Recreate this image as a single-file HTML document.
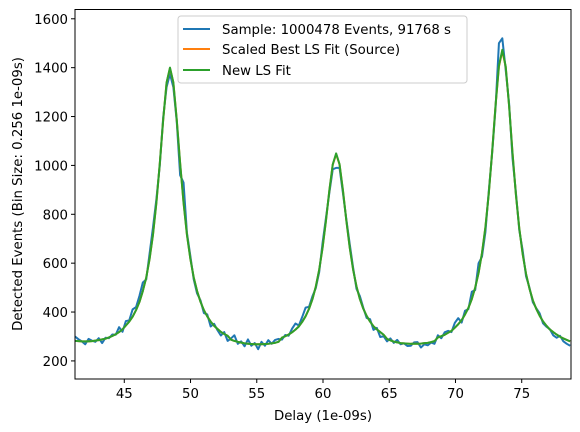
<!DOCTYPE html>
<html><head><meta charset="utf-8"><style>
html,body{margin:0;padding:0;background:#fff;}
svg{display:block;font-family:"DejaVu Sans","Liberation Sans",sans-serif;}
</style></head><body>
<svg id="chart" width="580" height="432" viewBox="0 0 580 432" xmlns="http://www.w3.org/2000/svg">
<rect x="0" y="0" width="580" height="432" fill="#fff"/>
<g id="series"></g>
<rect x="75" y="9.5" width="496" height="369.5" fill="none" stroke="#000" stroke-width="1"/>
<g id="xticks"></g>
<g id="yticks"></g>
<text x="323" y="420" text-anchor="middle" font-size="13.3" fill="#000">Delay (1e-09s)</text>
<text transform="translate(22,194) rotate(-90)" text-anchor="middle" font-size="13.3" fill="#000">Detected Events (Bin Size: 0.256 1e-09s)</text>
<g>
<rect x="178" y="16" width="289" height="67" rx="3" fill="#fff" fill-opacity="0.8" stroke="#ccc"/>
<line x1="183" y1="29" x2="210" y2="29" stroke="#1f77b4" stroke-width="2"/>
<text x="222" y="34" font-size="13.3">Sample: 1000478 Events, 91768 s</text>
<line x1="183" y1="49" x2="210" y2="49" stroke="#ff7f0e" stroke-width="2"/>
<text x="222" y="54" font-size="13.3">Scaled Best LS Fit (Source)</text>
<line x1="183" y1="70" x2="210" y2="70" stroke="#2ca02c" stroke-width="2"/>
<text x="222" y="75" font-size="13.3">New LS Fit</text>
</g>
</svg>
<script>
const binStart = 41.28;
const binSize = 0.256;
const xTicks = [45, 50, 55, 60, 65, 70, 75];
const yTicks = [200, 400, 600, 800, 1000, 1200, 1400, 1600];
const sampleValues = [300,289,280,268,290,283,278,293,273,295,293,308,307,338,319,363,366,411,420,466,521,533,640,747,862,1000,1196,1320,1375,1320,1180,960,930,725,631,534,476,448,396,390,341,352,326,304,318,282,292,305,270,280,260,288,262,273,248,278,262,285,270,286,290,287,306,303,332,353,345,380,418,421,464,498,563,683,786,888,984,990,990,887,780,679,582,495,465,418,376,371,327,335,298,301,280,292,274,286,268,272,261,262,276,277,255,268,264,275,270,305,293,317,323,318,356,375,357,405,412,483,490,600,626,726,894,1050,1235,1500,1520,1390,1253,1030,890,735,652,546,500,440,416,395,354,340,330,305,295,303,280,270,262];
const newFitValues = [282,281,280,280,280,281,283,285,288,291,296,302,309,318,329,345,361,381,408,441,486,541,618,717,847,1008,1186,1339,1400,1340,1187,1009,848,717,619,542,486,442,408,382,361,344,331,319,310,303,287,282,278,275,272,270,269,268,268,268,269,270,272,274,278,295,301,308,317,328,341,360,383,413,452,504,573,663,774,898,1004,1049,1005,899,775,664,574,505,453,414,384,361,342,329,318,307,290,284,279,276,273,272,271,270,270,270,271,273,274,277,281,296,301,307,315,323,336,350,367,390,417,453,500,560,641,746,884,1055,1245,1407,1473,1405,1243,1052,881,743,637,556,496,448,413,385,362,344,329,318,308,299,292,286,280];
const scaledFitValues = [282,281,280,280,280,281,283,285,288,291,296,302,309,318,329,345,361,381,408,441,486,541,618,717,847,1008,1186,1338,1398,1339,1187,1009,848,717,619,542,486,442,408,382,361,344,331,319,310,303,287,282,278,275,272,270,269,268,268,268,269,270,272,274,278,295,301,308,317,328,341,360,383,413,452,504,573,663,774,898,1003,1046,1004,899,775,664,574,505,453,414,384,361,342,329,318,307,290,284,279,276,273,272,271,270,270,270,271,273,274,277,281,296,301,307,315,323,336,350,367,390,417,453,500,560,641,746,884,1055,1244,1404,1468,1403,1243,1052,881,743,637,556,496,448,413,385,362,344,329,318,308,299,292,286,280];
const xMin = 41.28, xMax = 78.72, yMin = 126, yMax = 1638;
const PL = 75, PR = 571, PT = 9.5, PB = 379;
function xs(v){ return PL + (v - xMin) / (xMax - xMin) * (PR - PL); }
function ys(v){ return PB - (v - yMin) / (yMax - yMin) * (PB - PT); }
const NS = "http://www.w3.org/2000/svg";
const series = document.getElementById('series');
function addLine(vals, color, name){
  let d = '';
  vals.forEach((v,i)=>{ const x = xs(binStart + i*binSize); d += (i? 'L':'M') + x.toFixed(2) + ' ' + ys(v).toFixed(2); });
  const p = document.createElementNS(NS,'path');
  p.setAttribute('d', d);
  p.setAttribute('fill','none');
  p.setAttribute('stroke', color);
  p.setAttribute('stroke-width','2');
  p.setAttribute('stroke-linejoin','round');
  
  
  series.appendChild(p);
}
const clip = document.createElementNS(NS,'clipPath');
clip.setAttribute('id','pc');
const cr = document.createElementNS(NS,'rect');
cr.setAttribute('x',PL);cr.setAttribute('y',PT);cr.setAttribute('width',PR-PL);cr.setAttribute('height',PB-PT);
clip.appendChild(cr);
document.getElementById('chart').appendChild(clip);
series.setAttribute('clip-path','url(#pc)');
addLine(sampleValues, '#1f77b4', 'sample-line');
addLine(scaledFitValues, '#ff7f0e', 'scaled-fit-line');
addLine(newFitValues, '#2ca02c', 'new-fit-line');
const xg = document.getElementById('xticks');
xTicks.forEach(t=>{
  const x = xs(t);
  const l = document.createElementNS(NS,'line');
  l.setAttribute('x1',x);l.setAttribute('x2',x);l.setAttribute('y1',PB);l.setAttribute('y2',PB+4);
  l.setAttribute('stroke','#000');
  
  
  xg.appendChild(l);
  const tx = document.createElementNS(NS,'text');
  tx.setAttribute('x',x);tx.setAttribute('y',PB+19);tx.setAttribute('text-anchor','middle');tx.setAttribute('font-size','13.3');
  tx.textContent = t;
  
  
  xg.appendChild(tx);
});
const yg = document.getElementById('yticks');
yTicks.forEach(t=>{
  const y = ys(t);
  const l = document.createElementNS(NS,'line');
  l.setAttribute('x1',PL-4);l.setAttribute('x2',PL);l.setAttribute('y1',y);l.setAttribute('y2',y);
  l.setAttribute('stroke','#000');
  
  
  yg.appendChild(l);
  const tx = document.createElementNS(NS,'text');
  tx.setAttribute('x',PL-7);tx.setAttribute('y',y+5);tx.setAttribute('text-anchor','end');tx.setAttribute('font-size','13.3');
  tx.textContent = t;
  
  
  yg.appendChild(tx);
});
</script>
</body></html>
